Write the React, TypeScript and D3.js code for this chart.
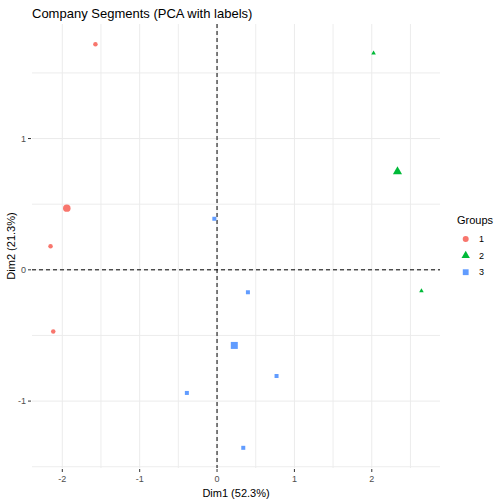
import React from "react";
import * as d3 from "d3";

// individual scores per group (Dim1, Dim2)
const group1X = [-1.572, -2.152, -2.117];
const group1Y = [1.719, 0.179, -0.47];
const group2X = [2.023, 2.642];
const group2Y = [1.651, -0.16];
const group3X = [-0.035, 0.399, 0.769, -0.39, 0.339];
const group3Y = [0.389, -0.171, -0.809, -0.938, -1.356];

// group mean points
const centerX = [-1.942, 2.332, 0.223];
const centerY = [0.47, 0.749, -0.576];

const groupNames = ["1", "2", "3"];
const groupColors = ["#F8766D", "#00BA38", "#619CFF"];
const xTicks = [-2, -1, 0, 1, 2];
const yTicks = [-1, 0, 1];

const W = 504;
const H = 504;
const margin = { top: 24, right: 64, bottom: 36, left: 32 };

const groups = [
  { xs: group1X, ys: group1Y },
  { xs: group2X, ys: group2Y },
  { xs: group3X, ys: group3Y },
];

const shapes = [d3.symbolCircle, d3.symbolTriangle, d3.symbolSquare];
const smallSize = [16, 9, 16];
const bigSize = [44, 36, 49];
const legendSize = [28, 30, 34];

function expand([a, b]: [number, number]): [number, number] {
  const pad = (b - a) * 0.05;
  return [a - pad, b + pad];
}

export default function App() {
  const allX = groups.flatMap((g) => g.xs);
  const allY = groups.flatMap((g) => g.ys);

  const x = d3
    .scaleLinear()
    .domain(expand(d3.extent(allX) as [number, number]))
    .range([margin.left, W - margin.right]);
  const y = d3
    .scaleLinear()
    .domain(expand(d3.extent(allY) as [number, number]))
    .range([H - margin.bottom, margin.top]);

  const [x0, x1] = x.range();
  const [y1, y0] = y.range();

  const xMinor = d3.range(-2.5, 3, 1).filter((v) => v >= x.domain()[0] && v <= x.domain()[1]);
  const yMinor = d3.range(-1.5, 2, 1).filter((v) => v >= y.domain()[0] - 0.02 && v <= y.domain()[1]);

  const sym = (i: number, size: number) => d3.symbol().type(shapes[i]).size(size)()!;

  return (
    <svg
      width={W}
      height={H}
      style={{ position: "absolute", left: 0, top: 0, background: "#fff" }}
      fontFamily="'Liberation Sans', Arial, sans-serif"
    >
      {/* grid */}
      {xMinor.map((v) => (
        <line key={`xm${v}`} x1={x(v)} x2={x(v)} y1={y0} y2={y1} stroke="#EBEBEB" strokeWidth={0.9} />
      ))}
      {yMinor.map((v) => (
        <line key={`ym${v}`} x1={x0} x2={x1} y1={y(v)} y2={y(v)} stroke="#EBEBEB" strokeWidth={0.9} />
      ))}
      {xTicks.map((v) => (
        <line key={`xg${v}`} x1={x(v)} x2={x(v)} y1={y0} y2={y1} stroke="#EBEBEB" strokeWidth={1} />
      ))}
      {yTicks.map((v) => (
        <line key={`yg${v}`} x1={x0} x2={x1} y1={y(v)} y2={y(v)} stroke="#EBEBEB" strokeWidth={1} />
      ))}

      {/* reference lines */}
      <line x1={x0} x2={x1} y1={y(0)} y2={y(0)} stroke="#000" strokeWidth={1} strokeDasharray="4,3" />
      <line x1={x(0)} x2={x(0)} y1={y0} y2={y1} stroke="#000" strokeWidth={1} strokeDasharray="4,3" />

      {/* axes ticks + labels */}
      {xTicks.map((v) => (
        <g key={`xt${v}`}>
          <line x1={x(v)} x2={x(v)} y1={y1 + 1} y2={y1 + 4} stroke="#333" strokeWidth={1} />
          <text x={x(v)} y={y1 + 14} textAnchor="middle" fontSize={9} fill="#4D4D4D">
            {v}
          </text>
        </g>
      ))}
      {yTicks.map((v) => (
        <g key={`yt${v}`}>
          <line x1={x0 - 4} x2={x0 - 1} y1={y(v)} y2={y(v)} stroke="#333" strokeWidth={1} />
          <text x={x0 - 6} y={y(v) + 3.2} textAnchor="end" fontSize={9} fill="#4D4D4D">
            {v}
          </text>
        </g>
      ))}

      {/* points */}
      {groups.map((g, gi) =>
        g.xs.map((xv, i) => (
          <path
            key={`p${gi}-${i}`}
            d={sym(gi, smallSize[gi])}
            transform={`translate(${x(xv)},${y(g.ys[i])})`}
            fill={groupColors[gi]}
          />
        ))
      )}
      {centerX.map((cx, gi) => (
        <path
          key={`c${gi}`}
          d={sym(gi, bigSize[gi])}
          transform={`translate(${x(cx)},${y(centerY[gi])})`}
          fill={groupColors[gi]}
        />
      ))}

      {/* titles */}
      <text x={x0} y={18} fontSize={13} fill="#000">
        Company Segments (PCA with labels)
      </text>
      <text x={(x0 + x1) / 2} y={497} textAnchor="middle" fontSize={11} fill="#000">
        Dim1 (52.3%)
      </text>
      <text
        transform={`translate(15,${(y0 + y1) / 2}) rotate(-90)`}
        textAnchor="middle"
        fontSize={11}
        fill="#000"
      >
        Dim2 (21.3%)
      </text>

      {/* legend */}
      <text x={457} y={224} fontSize={11} fill="#000">
        Groups
      </text>
      {groupNames.map((name, gi) => {
        const ly = 239 + gi * 16.6;
        return (
          <g key={`l${gi}`}>
            <path d={sym(gi, legendSize[gi])} transform={`translate(465.7,${ly})`} fill={groupColors[gi]} />
            <text x={479} y={ly + 3.2} fontSize={9} fill="#000">
              {name}
            </text>
          </g>
        );
      })}
    </svg>
  );
}
